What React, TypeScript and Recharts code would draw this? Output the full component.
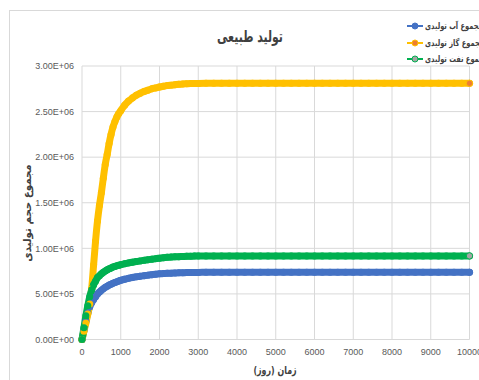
import React from 'react';
import { LineChart, Line, XAxis, YAxis, CartesianGrid } from 'recharts';

// Elapsed time in days
const days = [
  0, 50, 100, 150, 200, 250, 300, 350, 400, 450, 500, 550, 600, 650, 700, 750, 800, 850, 900, 950, 1000,
  1100, 1200, 1300, 1400, 1500, 1600, 1700, 1800, 1900, 2000,
  2100, 2200, 2300, 2400, 2500, 2600, 2700, 2800, 2900, 3000,
  3200, 3400, 3600, 3800, 4000, 4200, 4400, 4600, 4800, 5000,
  5200, 5400, 5600, 5800, 6000, 6200, 6400, 6600, 6800, 7000,
  7200, 7400, 7600, 7800, 8000, 8200, 8400, 8600, 8800, 9000,
  9200, 9400, 9600, 9800, 10000,
];

// Cumulative water production (millions)
const waterMillions = [
  0, 0.1, 0.2, 0.29, 0.36, 0.405, 0.44, 0.47, 0.5, 0.52, 0.54, 0.557, 0.572, 0.585, 0.597, 0.607, 0.617, 0.626, 0.634, 0.642, 0.649,
  0.661, 0.671, 0.68, 0.687, 0.694, 0.7, 0.706, 0.711, 0.716, 0.72,
  0.723, 0.726, 0.728, 0.73, 0.732, 0.733, 0.734, 0.735, 0.736, 0.736,
  0.737, 0.737, 0.737, 0.737, 0.737, 0.737, 0.737, 0.737, 0.737, 0.737,
  0.737, 0.737, 0.737, 0.737, 0.737, 0.737, 0.737, 0.737, 0.737, 0.737,
  0.737, 0.737, 0.737, 0.737, 0.737, 0.737, 0.737, 0.737, 0.737, 0.737,
  0.737, 0.737, 0.737, 0.737, 0.737,
];

// Cumulative gas production (millions)
const gasMillions = [
  0, 0.09, 0.18, 0.28, 0.39, 0.56, 0.82, 1.08, 1.3, 1.47, 1.61, 1.77, 1.92, 2.03, 2.15, 2.25, 2.33, 2.39, 2.44, 2.48, 2.51,
  2.57, 2.615, 2.65, 2.68, 2.7, 2.72, 2.735, 2.75, 2.76, 2.77,
  2.778, 2.785, 2.79, 2.795, 2.8, 2.803, 2.805, 2.807, 2.808, 2.809,
  2.81, 2.81, 2.81, 2.81, 2.81, 2.81, 2.81, 2.81, 2.81, 2.81,
  2.81, 2.81, 2.81, 2.81, 2.81, 2.81, 2.81, 2.81, 2.81, 2.81,
  2.81, 2.81, 2.81, 2.81, 2.81, 2.81, 2.81, 2.81, 2.81, 2.81,
  2.81, 2.81, 2.81, 2.81, 2.81,
];

// Cumulative oil production (millions)
const oilMillions = [
  0, 0.13, 0.26, 0.37, 0.47, 0.545, 0.6, 0.64, 0.68, 0.7, 0.72, 0.737, 0.751, 0.764, 0.775, 0.785, 0.794, 0.802, 0.809, 0.815, 0.821,
  0.831, 0.84, 0.848, 0.855, 0.862, 0.868, 0.875, 0.881, 0.887, 0.892,
  0.897, 0.901, 0.904, 0.907, 0.909, 0.911, 0.913, 0.914, 0.915, 0.916,
  0.917, 0.917, 0.917, 0.917, 0.917, 0.917, 0.917, 0.917, 0.917, 0.917,
  0.917, 0.917, 0.917, 0.917, 0.917, 0.917, 0.917, 0.917, 0.917, 0.917,
  0.917, 0.917, 0.917, 0.917, 0.917, 0.917, 0.917, 0.917, 0.917, 0.917,
  0.917, 0.917, 0.917, 0.917, 0.917,
];

const dayTicks = [0, 1000, 2000, 3000, 4000, 5000, 6000, 7000, 8000, 9000, 10000];
const volumeTicks = [0, 500000, 1000000, 1500000, 2000000, 2500000, 3000000];

const titleText = 'تولید طبیعی';
const xTitle = 'زمان (روز)';
const yTitle = 'مجموع حجم تولیدی';

const seriesDefs = [
  { key: 'water', name: 'مجموع آب تولیدی', color: '#4472C4', marker: '#4472C4' },
  { key: 'gas', name: 'مجموع گاز تولیدی', color: '#FFC000', marker: '#ED7D31' },
  { key: 'oil', name: 'مجموع نفت تولیدی', color: '#00B050', marker: '#A5A5A5' },
];

const rows = days.map((day, i) => ({
  day,
  water: waterMillions[i] * 1e6,
  gas: gasMillions[i] * 1e6,
  oil: oilMillions[i] * 1e6,
}));

const sciFormat = (v: number) => {
  if (v === 0) return '0.00E+00';
  const exp = Math.floor(Math.log10(v));
  const mant = v / Math.pow(10, exp);
  return mant.toFixed(2) + 'E+' + String(exp).padStart(2, '0');
};

const persianFont = '"DejaVu Sans", sans-serif';
const tickFont = '"Liberation Sans Narrow", "Liberation Sans", sans-serif';

// Markers sit inside the thick line; only the final point shows its own fill colour
const makeDot = (color: string, marker: string) => (props: any) => {
  const { cx, cy, index } = props;
  if (cx == null || cy == null) return <g key={`d${index}`} />;
  const last = index === days.length - 1;
  return (
    <circle
      key={`d${index}`}
      cx={cx}
      cy={cy}
      r={last ? 3.2 : 3.5}
      fill={last ? marker : color}
      stroke={color}
      strokeWidth={last ? 1 : 0}
    />
  );
};

export default function App() {
  return (
    <div
      style={{
        position: 'absolute',
        left: 0,
        top: 0,
        width: 479,
        height: 380,
        overflow: 'hidden',
        background: '#ffffff',
      }}
    >
      <div
        style={{
          position: 'absolute',
          left: 9,
          top: 10,
          width: 520,
          height: 420,
          border: '1px solid #D9D9D9',
        }}
      />
      <div style={{ position: 'absolute', left: 0, top: 0 }}>
        <LineChart
          width={479}
          height={380}
          data={rows}
          margin={{ top: 66, right: 9.5, bottom: 20.5, left: 0 }}
        >
          <CartesianGrid stroke="#D9D9D9" strokeWidth={1} />
          <XAxis
            dataKey="day"
            type="number"
            domain={[0, 10000]}
            ticks={dayTicks}
            height={20}
            axisLine={false}
            tickLine={false}
            tickMargin={3}
            interval={0}
            tick={{ fontSize: 9, fill: '#595959', fontFamily: tickFont }}
          />
          <YAxis
            type="number"
            domain={[0, 3000000]}
            ticks={volumeTicks}
            width={82}
            axisLine={false}
            tickLine={false}
            interval={0}
            tickFormatter={sciFormat}
            tick={{ fontSize: 9, fill: '#595959', fontFamily: tickFont }}
          />
          {seriesDefs.map((s) => (
            <Line
              key={s.key}
              dataKey={s.key}
              name={s.name}
              type="monotone"
              stroke={s.color}
              strokeWidth={7}
              strokeLinecap="round"
              dot={makeDot(s.color, s.marker)}
              activeDot={false}
              isAnimationActive={false}
            />
          ))}
        </LineChart>
      </div>

      {/* Title */}
      <div
        dir="rtl"
        style={{
          position: 'absolute',
          left: 150,
          width: 200,
          top: 26,
          textAlign: 'center',
          fontFamily: persianFont,
          fontWeight: 'bold',
          fontSize: 16,
          color: '#404040',
          lineHeight: '22px',
          transform: 'scaleX(0.68)',
        }}
      >
        {titleText}
      </div>

      {/* Legend */}
      {seriesDefs.map((s, i) => (
        <div
          key={s.key}
          style={{ position: 'absolute', left: 406, top: 19 + i * 16.5, height: 14, whiteSpace: 'nowrap' }}
        >
          <svg width={18} height={14} style={{ position: 'absolute', left: 0, top: 0 }}>
            <line x1={1} y1={7} x2={17} y2={7} stroke={s.color} strokeWidth={2} />
            <circle cx={9} cy={7} r={3} fill={s.marker} stroke={s.color} strokeWidth={1} />
          </svg>
          <span
            dir="rtl"
            style={{
              position: 'absolute',
              left: 19,
              top: 0,
              fontFamily: persianFont,
              fontSize: 9,
              fontWeight: 'bold',
              color: '#404040',
              lineHeight: '14px',
              whiteSpace: 'nowrap',
              transform: 'scaleX(0.74)',
              transformOrigin: 'left center',
            }}
          >
            {s.name}
          </span>
        </div>
      ))}

      {/* Y axis title */}
      <div
        dir="rtl"
        style={{
          position: 'absolute',
          left: 28 - 70,
          top: 213 - 9,
          width: 140,
          height: 18,
          textAlign: 'center',
          transform: 'rotate(-90deg) scaleX(0.93)',
          fontFamily: persianFont,
          fontWeight: 'bold',
          fontSize: 11,
          color: '#404040',
          lineHeight: '18px',
        }}
      >
        {yTitle}
      </div>

      {/* X axis title */}
      <div
        dir="rtl"
        style={{
          position: 'absolute',
          left: 275 - 70,
          top: 362,
          width: 140,
          textAlign: 'center',
          fontFamily: persianFont,
          fontWeight: 'bold',
          fontSize: 11,
          color: '#404040',
          lineHeight: '18px',
          transform: 'scaleX(0.72)',
        }}
      >
        {xTitle}
      </div>
    </div>
  );
}
